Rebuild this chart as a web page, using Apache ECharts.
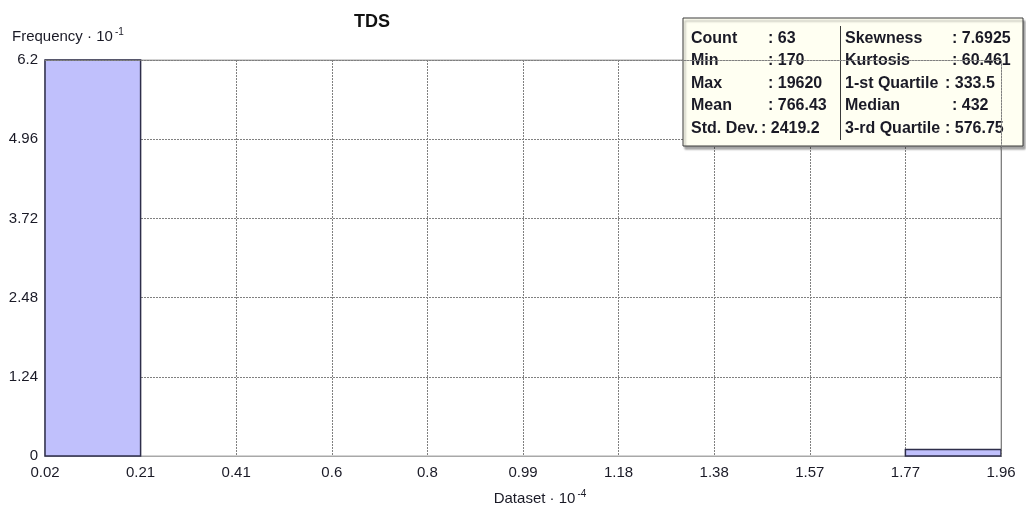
<!DOCTYPE html>
<html>
<head>
<meta charset="utf-8">
<title>TDS histogram</title>
<script src="https://cdn.jsdelivr.net/npm/echarts@6/dist/echarts.min.js"></script>
<style>
  html, body { margin: 0; padding: 0; background: #ffffff; }
  #chart { width: 1026px; height: 515px; }
</style>
</head>
<body>
<div id="chart"></div>
<script>
// Histogram of TDS: 10 equal-width bins between 170 and 19620 (units of 10^4)
const binCounts = [62, 0, 0, 0, 0, 0, 0, 0, 0, 1];
const xTickLabels = ['0.02', '0.21', '0.41', '0.6', '0.8', '0.99', '1.18', '1.38', '1.57', '1.77', '1.96'];
const yTickLabels = ['0', '1.24', '2.48', '3.72', '4.96', '6.2'];

// Summary statistics panel
const statsLeft = [
  ['Count', ': 63'],
  ['Min', ': 170'],
  ['Max', ': 19620'],
  ['Mean', ': 766.43'],
  ['Std. Dev.', ': 2419.2']
];
const statsRight = [
  ['Skewness', ': 7.6925'],
  ['Kurtosis', ': 60.461'],
  ['1-st Quartile', ': 333.5'],
  ['Median', ': 432'],
  ['3-rd Quartile', ': 576.75']
];

const binData = binCounts.map((c, i) => [i, c]);

const labelFont = 'Liberation Sans, Arial, sans-serif';
const statFont = 'bold 16px Liberation Sans, Arial, sans-serif';
const textColor = '#1a1a26';
const gridDots = { color: '#808080', type: [2, 1], width: 1 };
const PANEL_Z = 10;

const chart = echarts.init(document.getElementById('chart'), null, { renderer: 'canvas' });

// Panel frame, divider and texts
const panelX = 683, panelY = 18, panelW = 340, panelH = 128;
const rowY = [38.5, 61, 83.5, 106, 128.5];
const panelChildren = [
  {
    type: 'rect', z: PANEL_Z,
    shape: { x: panelX, y: panelY, width: panelW, height: panelH },
    style: {
      fill: '#fffff2', stroke: '#3a3a3a', lineWidth: 1,
      shadowColor: 'rgba(0,0,0,0.35)', shadowOffsetX: 2, shadowOffsetY: 3, shadowBlur: 2
    }
  },
  {
    type: 'line', z: PANEL_Z,
    shape: { x1: 840.5, y1: 26, x2: 840.5, y2: 140 },
    style: { stroke: '#3a3a3a', lineWidth: 1 }
  }
];
function addText(x, y, text) {
  panelChildren.push({
    type: 'text', z: PANEL_Z, x: x, y: y,
    style: { text: text, font: statFont, fill: textColor, verticalAlign: 'middle' }
  });
}
statsLeft.forEach((row, i) => {
  addText(691, rowY[i], row[0]);
  addText(i === 4 ? 761 : 768, rowY[i], row[1]);
});
statsRight.forEach((row, i) => {
  addText(845, rowY[i], row[0]);
  addText((i === 2 || i === 4) ? 945 : 952, rowY[i], row[1]);
});

// Frame axes on top/right: only their lines, drawn above the panel
const frameAxis = {
  axisLine: { show: true, onZero: false, lineStyle: gridDots },
  axisTick: { show: false },
  axisLabel: { show: false },
  splitLine: { show: false },
  z: 20
};

const option = {
  backgroundColor: '#ffffff',
  animation: false,
  title: {
    text: 'TDS',
    left: 349, top: 8,
    textStyle: { fontFamily: labelFont, fontWeight: 'bold', fontSize: 18, color: '#111' }
  },
  grid: {
    left: 45, right: 25, top: 60, bottom: 59,
    show: true, borderColor: '#a8a8a8', borderWidth: 1, backgroundColor: 'transparent'
  },
  xAxis: [{
    type: 'value',
    position: 'bottom',
    min: 0, max: 10, interval: 1,
    z: 0,
    name: '{b|Dataset · 10}{s|-4}',
    nameLocation: 'middle',
    nameGap: 33,
    nameTextStyle: {
      padding: [0, 0, 0, 34],
      rich: {
        b: { fontFamily: labelFont, fontSize: 15, color: textColor },
        s: { fontFamily: labelFont, fontSize: 10, color: textColor, verticalAlign: 'top', padding: [0, 0, 9, 2] }
      }
    },
    axisLine: { show: true, lineStyle: { color: '#a8a8a8', width: 1 } },
    axisTick: { show: false },
    axisLabel: {
      margin: 9,
      fontFamily: labelFont, fontSize: 15, color: textColor,
      formatter: v => xTickLabels[Math.round(v)]
    },
    splitLine: { show: true, lineStyle: gridDots }
  }, Object.assign({ type: 'value', position: 'top', min: 0, max: 10, interval: 1 }, frameAxis)],
  yAxis: [{
    type: 'value',
    position: 'left',
    min: 0, max: 62, interval: 12.4,
    z: 0,
    name: '{b|Frequency · 10}{s|-1}',
    nameLocation: 'end',
    nameGap: 14,
    nameTextStyle: {
      align: 'left',
      padding: [0, 0, 0, -33],
      rich: {
        b: { fontFamily: labelFont, fontSize: 15, color: textColor },
        s: { fontFamily: labelFont, fontSize: 10, color: textColor, verticalAlign: 'top', padding: [0, 0, 9, 2] }
      }
    },
    axisLine: { show: true, lineStyle: { color: '#a8a8a8', width: 1 } },
    axisTick: { show: false },
    axisLabel: {
      margin: 7,
      fontFamily: labelFont, fontSize: 15, color: textColor,
      padding: [0, 0, 6, 0],
      formatter: (v, idx) => yTickLabels[idx]
    },
    splitLine: { show: true, lineStyle: gridDots }
  }, Object.assign({ type: 'value', position: 'right', min: 0, max: 62, interval: 12.4 }, frameAxis)],
  series: [{
    type: 'custom',
    xAxisIndex: 0,
    yAxisIndex: 0,
    data: binData,
    encode: { x: 0, y: 1 },
    renderItem: (params, api) => {
      const i = api.value(0);
      const c = api.value(1);
      if (c <= 0) return null;
      const p0 = api.coord([i, c]);
      const p1 = api.coord([i + 1, 0]);
      return {
        type: 'rect',
        shape: { x: p0[0], y: p0[1], width: p1[0] - p0[0], height: p1[1] - p0[1] },
        style: { fill: '#c0c0fc', stroke: '#2e2e4a', lineWidth: 1.5 }
      };
    },
    z: 3
  }],
  graphic: [{ type: 'group', z: PANEL_Z, children: panelChildren }]
};

chart.setOption(option);
</script>
</body>
</html>
